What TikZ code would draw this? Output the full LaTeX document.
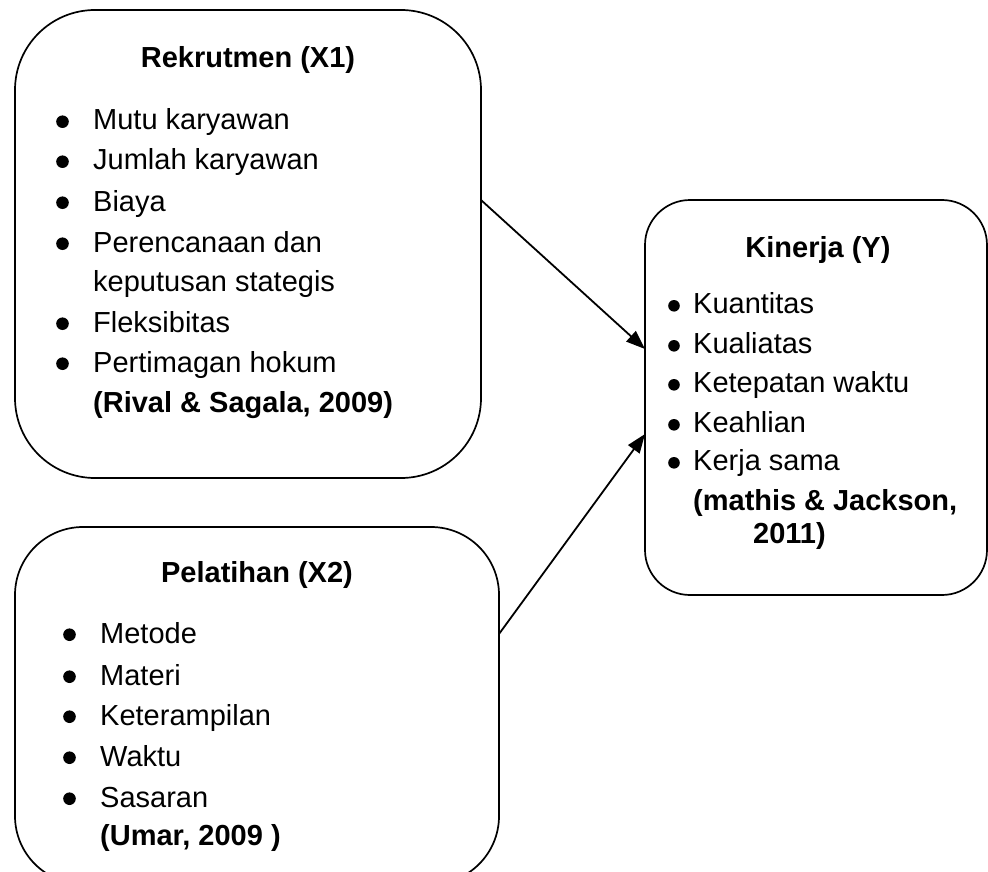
\documentclass[tikz,border=0pt]{standalone}
\usepackage{fontspec}
\setmainfont{Liberation Sans}
\usetikzlibrary{arrows.meta}
\newcommand{\blt}[2]{\raisebox{#2}{\tikz\fill (0pt,0pt) circle (#1);}}
\newcommand{\bla}{\makebox[37pt][l]{\blt{6.3pt}{2pt}}}
\newcommand{\blb}{\makebox[37pt][l]{\blt{6.3pt}{2pt}}}
\newcommand{\blc}{\makebox[25pt][l]{\blt{5.8pt}{1.4pt}}}
\begin{document}
\begin{tikzpicture}[x=1pt,y=-1pt,
  font=\fontsize{29}{35}\selectfont,
  box/.style={draw, line width=1.7pt, inner sep=0pt, outer sep=0pt, rectangle},
  item/.style={anchor=base west, inner sep=0pt},
  ttl/.style={anchor=base, inner sep=0pt, font=\fontsize{29}{35}\selectfont\bfseries},
  arr/.style={line width=1.8pt, -{Triangle[length=19pt,width=14pt]}}]
\useasboundingbox (0,0) rectangle (988,872);
% boxes
\node[box, rounded corners=80pt, minimum width=466pt, minimum height=468pt] (b1) at (248,244) {};
\node[box, rounded corners=68pt, minimum width=484pt, minimum height=357pt] (b2) at (257,705.5) {};
\node[box, rounded corners=45pt, minimum width=342pt, minimum height=395pt] (b3) at (816,397.5) {};
% box 1
\node[ttl] (t1) at (248,68) {Rekrutmen (X1)};
\node[item] (i11) at (56,130) {\bla Mutu karyawan};
\node[item] (i12) at (56,170) {\bla Jumlah karyawan};
\node[item] (i13) at (56,211) {\bla Biaya};
\node[item] (i14) at (56,252) {\bla Perencanaan dan};
\node[item] (i15) at (93,291) {keputusan stategis};
\node[item] (i16) at (56,332) {\bla Fleksibitas};
\node[item] (i17) at (56,372) {\bla Pertimagan hokum};
\node[item] (i18) at (93,412) {\textbf{(Rival \& Sagala, 2009)}};
% box 2
\node[ttl] (t2) at (257,582) {Pelatihan (X2)};
\node[item] (i21) at (63,643) {\blb Metode};
\node[item] (i22) at (63,685) {\blb Materi};
\node[item] (i23) at (63,725) {\blb Keterampilan};
\node[item] (i24) at (63,766) {\blb Waktu};
\node[item] (i25) at (63,807) {\blb Sasaran};
\node[item] (i26) at (100,845) {\textbf{(Umar, 2009 )}};
% box 3
\node[ttl] (t3) at (818,257) {Kinerja (Y)};
\node[item] (i31) at (668,313) {\blc Kuantitas};
\node[item] (i32) at (668,353) {\blc Kualiatas};
\node[item] (i33) at (668,392) {\blc Ketepatan waktu};
\node[item] (i34) at (668,432) {\blc Keahlian};
\node[item] (i35) at (668,470) {\blc Kerja sama};
\node[item] (i36) at (693,510) {\bfseries\makebox[264pt][s]{(mathis \& Jackson,}};
\node[item] (i37) at (753,543) {\textbf{2011)}};
% arrows
\draw[arr] (b1.east |- 0,200) -- (b3.west |- 0,349);
\draw[arr] (b2.east |- 0,634) -- (b3.west |- 0,434);
\end{tikzpicture}
\end{document}
